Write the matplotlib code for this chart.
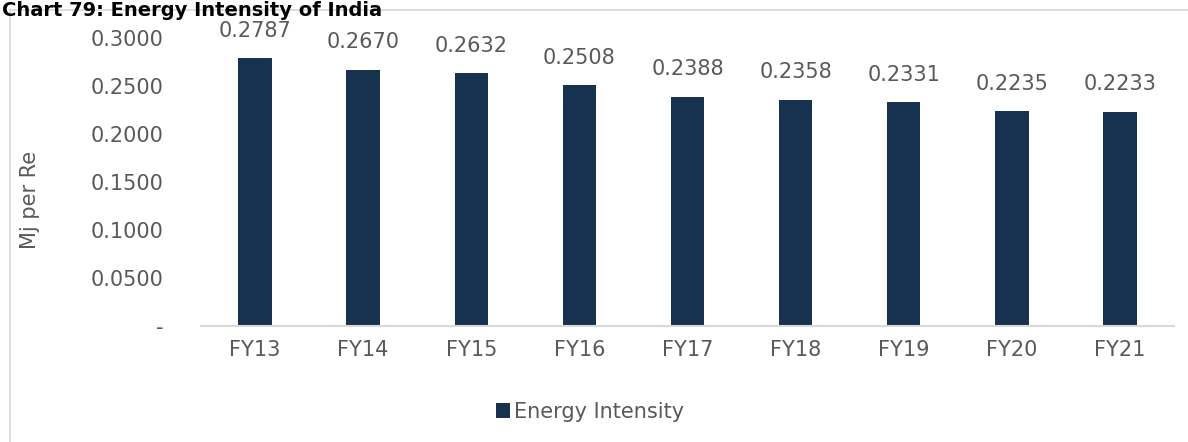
import numpy as np
import matplotlib.pyplot as plt

# data
years = ["FY13", "FY14", "FY15", "FY16", "FY17", "FY18", "FY19", "FY20", "FY21"]
intensity = [0.2787, 0.2670, 0.2632, 0.2508, 0.2388, 0.2358, 0.2331, 0.2235, 0.2233]
yticks = [0.0, 0.05, 0.10, 0.15, 0.20, 0.25, 0.30]

bar_col = "#17324F"
txt_col = "#595959"
line_col = "#D9D9D9"

plt.rcParams['font.family'] = ['DejaVu Sans']

fig = plt.figure(figsize=(11.88, 4.42), dpi=100)
W, H = 1188, 442
# plot area in pixels: left 201, right 1174, top 38, bottom 326
ax = fig.add_axes([201 / W, 1 - 326 / H, (1174 - 201) / W, (326 - 38) / H])

x = np.arange(len(years))
bars = ax.bar(x, intensity, width=0.31, color=bar_col, label="Energy Intensity")

for xi, v in zip(x, intensity):
    ax.text(xi, v + 0.018, f"{v:.4f}", ha="center", va="bottom",
            fontsize=15, color=txt_col)

ax.set_xlim(-0.5, len(years) - 0.5)
ax.set_ylim(0, 0.30)
ax.set_yticks(yticks)
ax.set_yticklabels(["-"] + [f"{t:.4f}" for t in yticks[1:]])
ax.set_xticks(x)
ax.set_xticklabels(years)
ax.tick_params(axis="both", length=0, labelsize=15, colors=txt_col)
ax.tick_params(axis="y", pad=27)
ax.tick_params(axis="x", pad=10)

for s in ["top", "right", "left"]:
    ax.spines[s].set_visible(False)
ax.spines["bottom"].set_color(line_col)
ax.spines["bottom"].set_linewidth(1.5)

fig.text(30 / W, 1 - 200 / H, "Mj per Re", rotation=90, ha="center", va="center",
         fontsize=15, color=txt_col)

leg = fig.legend(handles=[bars], labels=["Energy Intensity"], loc="center",
                 bbox_to_anchor=(590 / W, 1 - 412 / H), frameon=False,
                 fontsize=15, labelcolor=txt_col, handlelength=0.7,
                 handleheight=0.7, handletextpad=0.2)

# outer border of the chart (no right edge visible)
fig.add_artist(plt.Line2D([10 / W, 10 / W], [0, 1 - 10 / H], transform=fig.transFigure,
                          color=line_col, lw=1.2))
fig.add_artist(plt.Line2D([10 / W, 1], [1 - 10 / H, 1 - 10 / H], transform=fig.transFigure,
                          color=line_col, lw=1.2))

# title at the very top
fig.text(2 / W, 1 - 1 / H, "Chart 79: Energy Intensity of India", ha="left", va="top",
         fontsize=14, fontweight="bold", color="#000000")

fig.savefig("out.png", dpi=100)
